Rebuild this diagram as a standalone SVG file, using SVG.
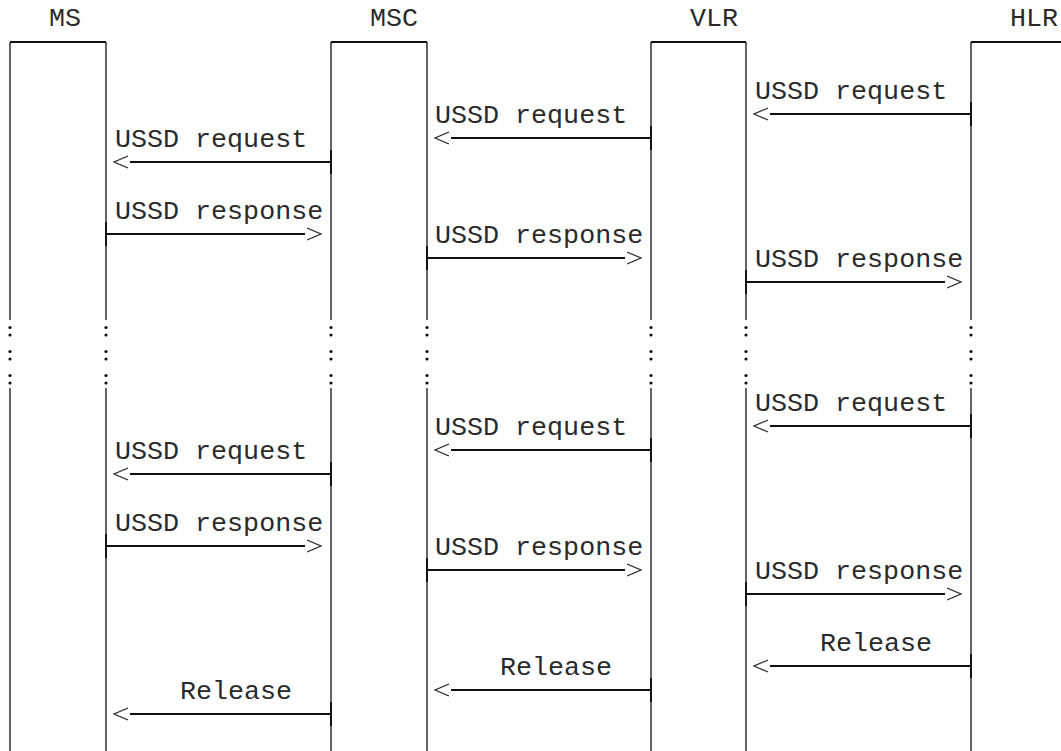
<svg xmlns="http://www.w3.org/2000/svg" width="1061" height="751" viewBox="0 0 1061 751">
<style>
.lbl{font-family:"Liberation Mono","Courier New",monospace;font-size:26.7px;fill:#2a2a2a}
.life{stroke:#111;stroke-width:1.3;fill:none}
.top{stroke:#111;stroke-width:2.2;fill:none}
.msg{stroke:#111;stroke-width:2.2;fill:none}
.tick{stroke:#111;stroke-width:1.9;fill:none}
.dot{fill:#111}
</style>
<defs>
<marker id="chevL" markerUnits="userSpaceOnUse" orient="auto" refX="0" refY="0" viewBox="-20 -10 40 20" markerWidth="40" markerHeight="20" overflow="visible"><path d="M-2,-6 L-16,0 L-2,6" fill="none" stroke="#222" stroke-width="1.2"/></marker>
<marker id="chevR" markerUnits="userSpaceOnUse" orient="auto" refX="0" refY="0" viewBox="-20 -10 40 20" markerWidth="40" markerHeight="20" overflow="visible"><path d="M2,-6 L16,0 L2,6" fill="none" stroke="#222" stroke-width="1.2"/></marker>
</defs>
<rect width="1061" height="751" fill="#fff"/>

<g id="node-ms">
<text class="lbl" x="49" y="26">MS</text>
<path class="top" d="M10,42 H106"/>
<path class="life" d="M10,42 V320 M10,388 V751 M106,42 V320 M106,388 V751"/>
</g>
<g id="node-msc">
<text class="lbl" x="370" y="26">MSC</text>
<path class="top" d="M331,42 H427"/>
<path class="life" d="M331,42 V320 M331,388 V751 M427,42 V320 M427,388 V751"/>
</g>
<g id="node-vlr">
<text class="lbl" x="690" y="26">VLR</text>
<path class="top" d="M651,42 H746"/>
<path class="life" d="M651,42 V320 M651,388 V751 M746,42 V320 M746,388 V751"/>
</g>
<g id="node-hlr">
<text class="lbl" x="1010" y="26">HLR</text>
<path class="top" d="M971,42 H1061"/>
<path class="life" d="M971,42 V320 M971,388 V751"/>
</g>

<g id="gap-dots">
<g class="dot">
<circle cx="10" cy="327.5" r="1.6"/><circle cx="10" cy="335" r="1.6"/><circle cx="10" cy="351.5" r="1.6"/><circle cx="10" cy="359" r="1.6"/><circle cx="10" cy="375.5" r="1.6"/><circle cx="10" cy="383" r="1.6"/>
<circle cx="106" cy="327.5" r="1.6"/><circle cx="106" cy="335" r="1.6"/><circle cx="106" cy="351.5" r="1.6"/><circle cx="106" cy="359" r="1.6"/><circle cx="106" cy="375.5" r="1.6"/><circle cx="106" cy="383" r="1.6"/>
<circle cx="331" cy="327.5" r="1.6"/><circle cx="331" cy="335" r="1.6"/><circle cx="331" cy="351.5" r="1.6"/><circle cx="331" cy="359" r="1.6"/><circle cx="331" cy="375.5" r="1.6"/><circle cx="331" cy="383" r="1.6"/>
<circle cx="427" cy="327.5" r="1.6"/><circle cx="427" cy="335" r="1.6"/><circle cx="427" cy="351.5" r="1.6"/><circle cx="427" cy="359" r="1.6"/><circle cx="427" cy="375.5" r="1.6"/><circle cx="427" cy="383" r="1.6"/>
<circle cx="651" cy="327.5" r="1.6"/><circle cx="651" cy="335" r="1.6"/><circle cx="651" cy="351.5" r="1.6"/><circle cx="651" cy="359" r="1.6"/><circle cx="651" cy="375.5" r="1.6"/><circle cx="651" cy="383" r="1.6"/>
<circle cx="746" cy="327.5" r="1.6"/><circle cx="746" cy="335" r="1.6"/><circle cx="746" cy="351.5" r="1.6"/><circle cx="746" cy="359" r="1.6"/><circle cx="746" cy="375.5" r="1.6"/><circle cx="746" cy="383" r="1.6"/>
<circle cx="971" cy="327.5" r="1.6"/><circle cx="971" cy="335" r="1.6"/><circle cx="971" cy="351.5" r="1.6"/><circle cx="971" cy="359" r="1.6"/><circle cx="971" cy="375.5" r="1.6"/><circle cx="971" cy="383" r="1.6"/>
</g>
</g>

<g id="connectors">
<path class="tick" d="M971,102 V126 M651,126 V150 M331,150 V174 M106,222 V246 M427,246 V270 M746,270 V294 M971,414 V438 M651,438 V462 M331,462 V486 M106,534 V558 M427,558 V582 M746,582 V606 M971,654 V678 M651,678 V702 M331,702 V726"/>

<path class="msg" d="M770,114 H971" marker-start="url(#chevL)"/>
<path class="msg" d="M451,138 H651" marker-start="url(#chevL)"/>
<path class="msg" d="M130,162 H331" marker-start="url(#chevL)"/>
<path class="msg" d="M106,234 H305" marker-end="url(#chevR)"/>
<path class="msg" d="M427,258 H625" marker-end="url(#chevR)"/>
<path class="msg" d="M746,282 H945" marker-end="url(#chevR)"/>

<path class="msg" d="M770,426 H971" marker-start="url(#chevL)"/>
<path class="msg" d="M451,450 H651" marker-start="url(#chevL)"/>
<path class="msg" d="M130,474 H331" marker-start="url(#chevL)"/>
<path class="msg" d="M106,546 H305" marker-end="url(#chevR)"/>
<path class="msg" d="M427,570 H625" marker-end="url(#chevR)"/>
<path class="msg" d="M746,594 H945" marker-end="url(#chevR)"/>

<path class="msg" d="M770,666 H971" marker-start="url(#chevL)"/>
<path class="msg" d="M451,690 H651" marker-start="url(#chevL)"/>
<path class="msg" d="M130,714 H331" marker-start="url(#chevL)"/>

<g class="lbl">
<text x="755" y="99">USSD request</text>
<text x="435" y="123">USSD request</text>
<text x="115" y="147">USSD request</text>
<text x="115" y="219">USSD response</text>
<text x="435" y="243">USSD response</text>
<text x="755" y="267">USSD response</text>
<text x="755" y="411">USSD request</text>
<text x="435" y="435">USSD request</text>
<text x="115" y="459">USSD request</text>
<text x="115" y="531">USSD response</text>
<text x="435" y="555">USSD response</text>
<text x="755" y="579">USSD response</text>
<text x="820" y="651">Release</text>
<text x="500" y="675">Release</text>
<text x="180" y="699">Release</text>
</g>
</g>
</svg>
